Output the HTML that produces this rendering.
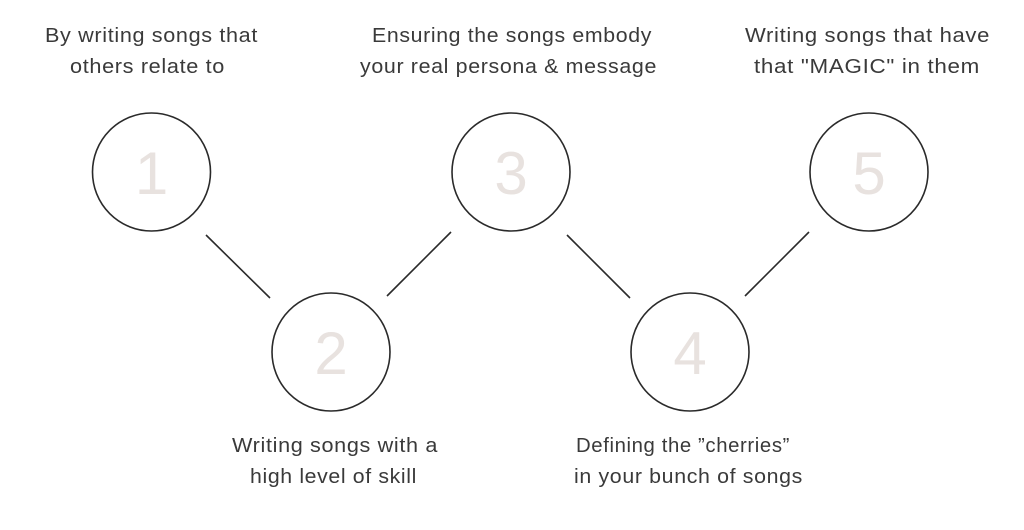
<!DOCTYPE html>
<html><head><meta charset="utf-8"><style>
html,body{margin:0;padding:0;background:#fff;width:1024px;height:530px;overflow:hidden}
svg text{font-family:"Liberation Sans",sans-serif}
.t{font-size:20px;fill:#3a3a3a;letter-spacing:0.6px}
.n{font-size:60px;fill:#e8e2df;text-anchor:middle}
</style></head><body>
<svg width="1024" height="530" viewBox="0 0 1024 530">
<g fill="none" stroke="#2a2a2a" stroke-width="1.6">
<circle cx="151.5" cy="172" r="59"/>
<circle cx="331" cy="352" r="59"/>
<circle cx="511" cy="172" r="59"/>
<circle cx="690" cy="352" r="59"/>
<circle cx="869" cy="172" r="59"/>
<line x1="206" y1="235" x2="270" y2="298"/>
<line x1="387" y1="296" x2="451" y2="232"/>
<line x1="567" y1="235" x2="630" y2="298"/>
<line x1="745" y1="296" x2="809" y2="232"/>
</g>
<text class="n" x="151.5" y="194">1</text>
<text class="n" x="331" y="374">2</text>
<text class="n" x="511" y="194">3</text>
<text class="n" x="690" y="374">4</text>
<text class="n" x="869" y="194">5</text>
<text class="t" x="45" y="42" textLength="213" lengthAdjust="spacingAndGlyphs">By writing songs that</text>
<text class="t" x="70" y="73" textLength="155" lengthAdjust="spacingAndGlyphs">others relate to</text>
<text class="t" x="372" y="42" textLength="280" lengthAdjust="spacingAndGlyphs">Ensuring the songs embody</text>
<text class="t" x="360" y="73" textLength="297" lengthAdjust="spacingAndGlyphs">your real persona &amp; message</text>
<text class="t" x="745" y="42" textLength="245" lengthAdjust="spacingAndGlyphs">Writing songs that have</text>
<text class="t" x="754" y="73" textLength="226" lengthAdjust="spacingAndGlyphs">that "MAGIC" in them</text>
<text class="t" x="232" y="452" textLength="206" lengthAdjust="spacingAndGlyphs">Writing songs with a</text>
<text class="t" x="250" y="483" textLength="167" lengthAdjust="spacingAndGlyphs">high level of skill</text>
<text class="t" x="576" y="452" textLength="214" lengthAdjust="spacingAndGlyphs">Defining the ”cherries”</text>
<text class="t" x="574" y="483" textLength="229" lengthAdjust="spacingAndGlyphs">in your bunch of songs</text>
</svg>
</body></html>
